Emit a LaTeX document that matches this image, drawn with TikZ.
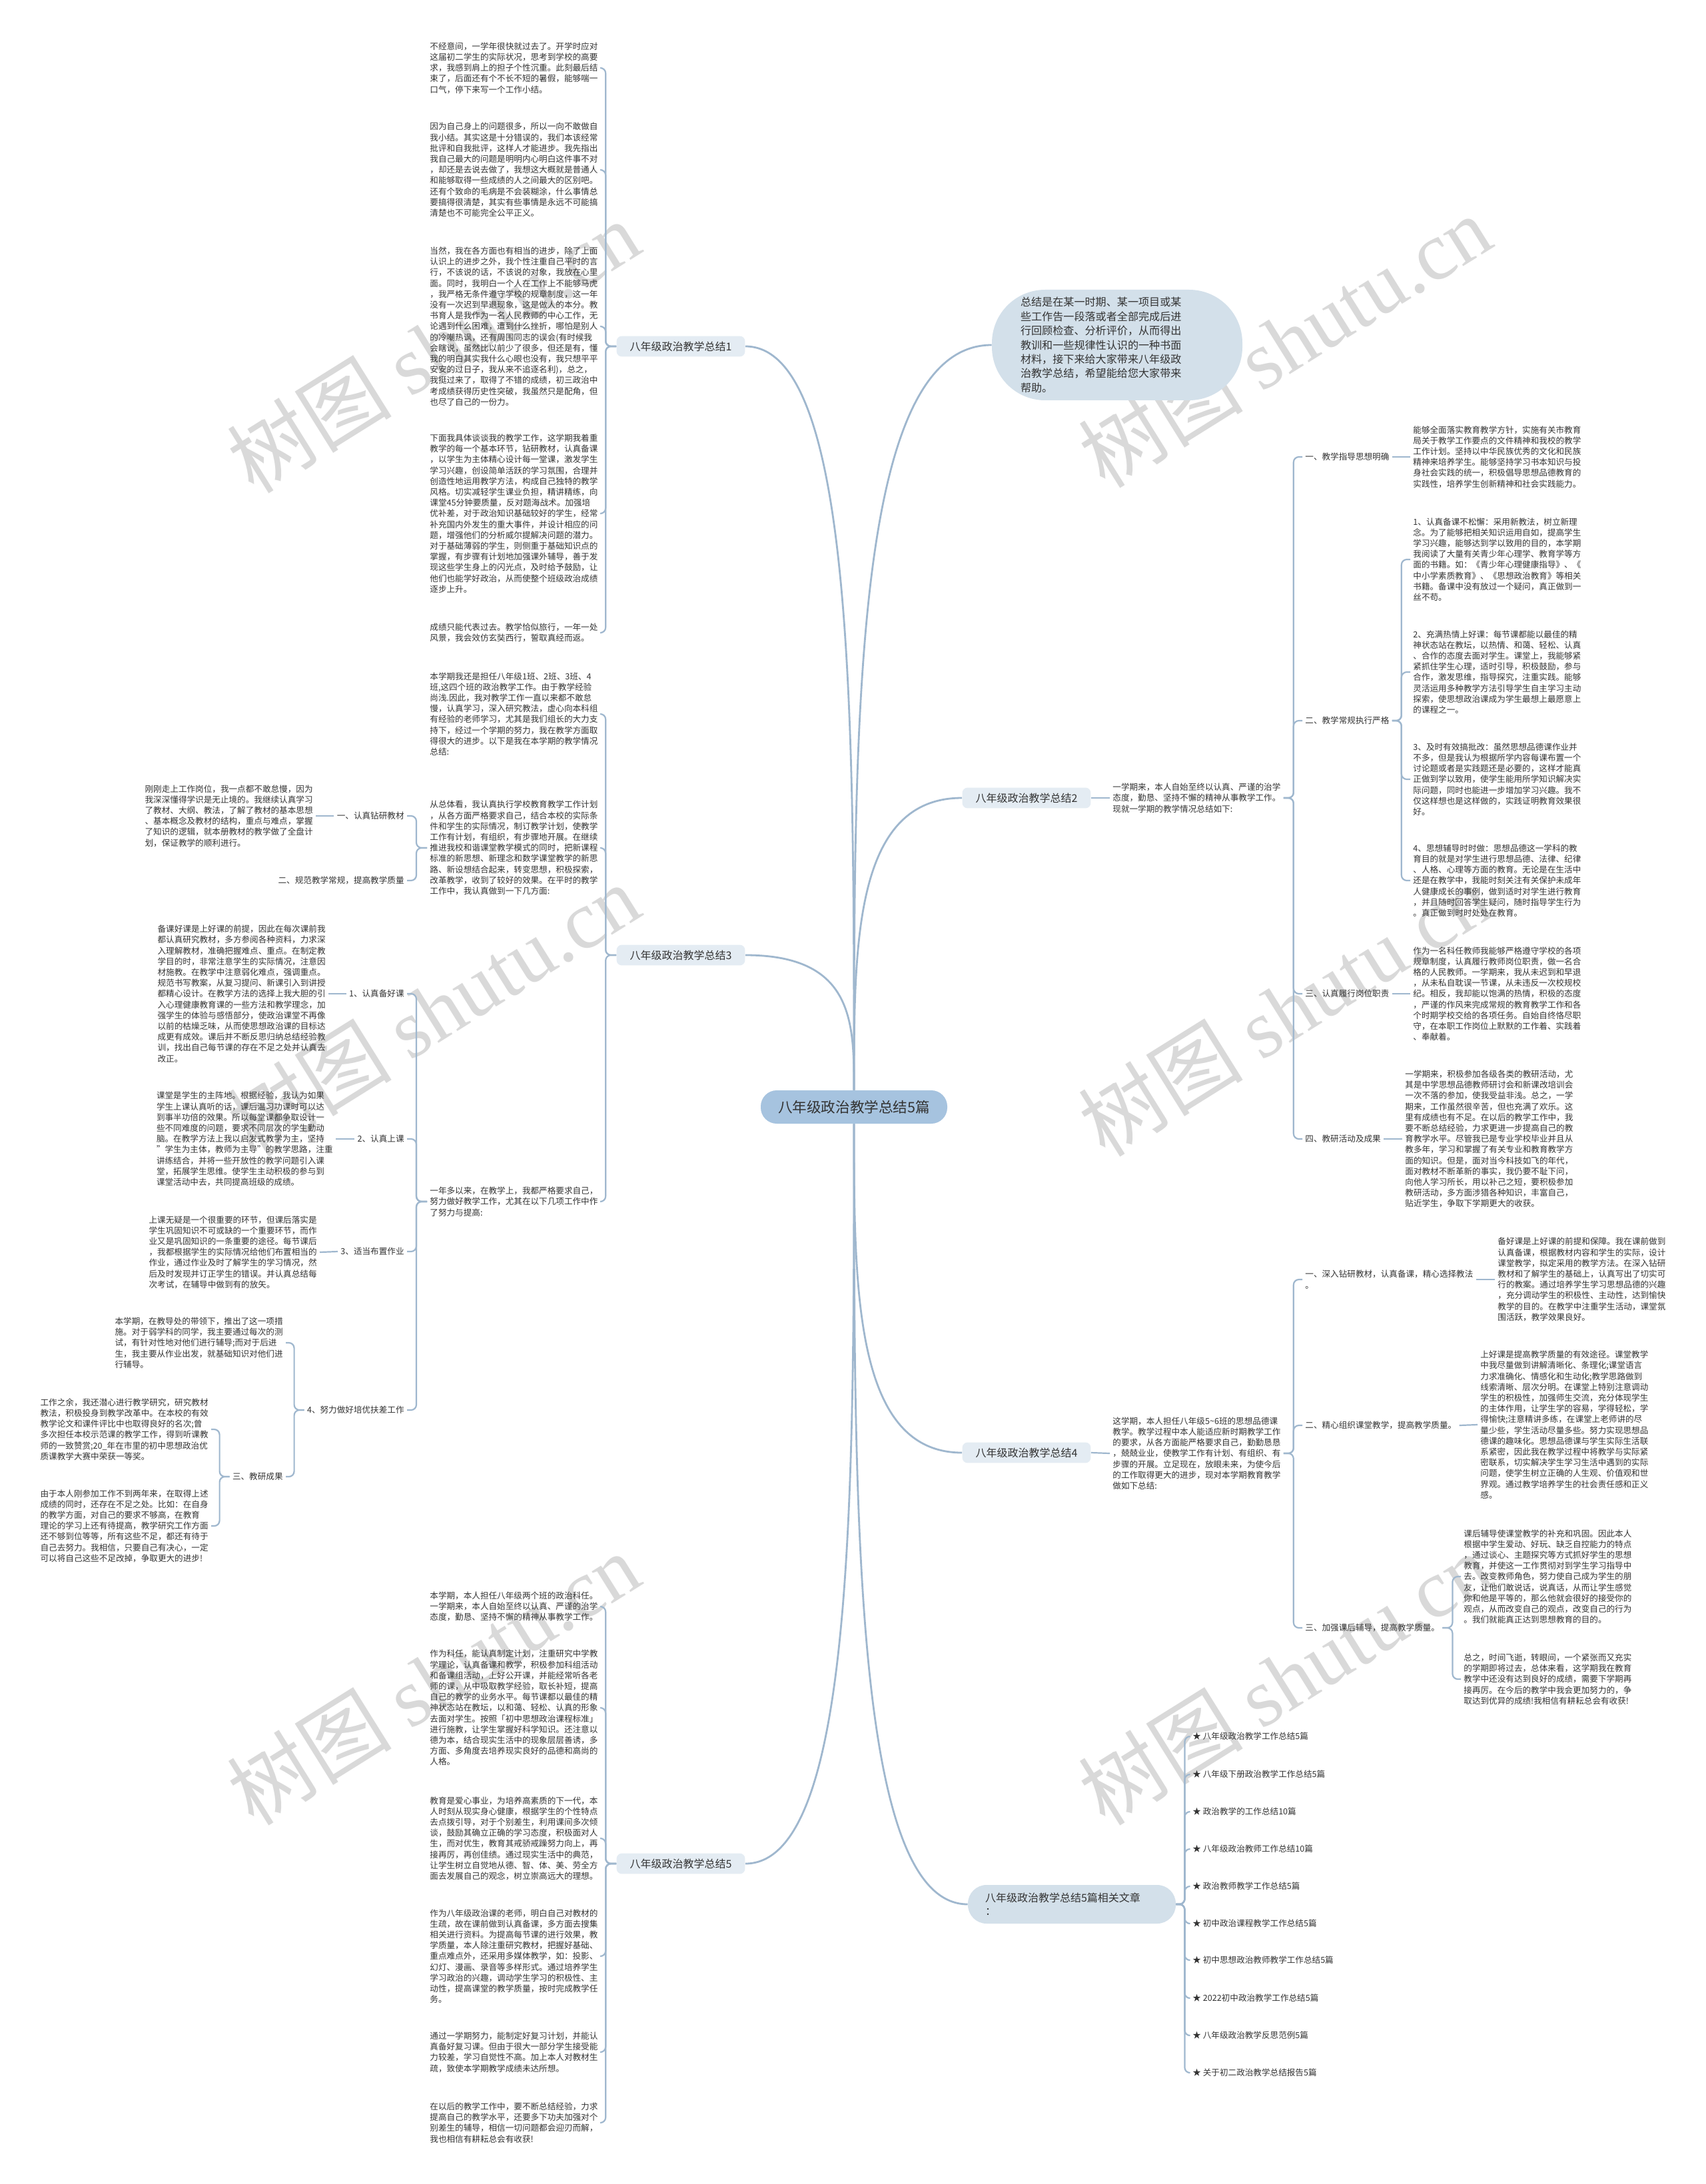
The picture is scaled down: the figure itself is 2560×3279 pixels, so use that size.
\documentclass[tikz,border=0pt]{standalone}
\usepackage{fontspec}
\setmainfont{Noto Sans CJK SC}
\newfontfamily\wmfont{Liberation Serif}
\usetikzlibrary{calc}
\definecolor{lc}{HTML}{9FB7CE}
\definecolor{ctrf}{HTML}{A6C3DF}
\definecolor{bubf}{HTML}{D3E0EA}
\definecolor{brf}{HTML}{E4ECF3}
\definecolor{tc}{HTML}{333333}
\definecolor{wmc}{HTML}{D9D9D9}
\tikzset{
  conn/.style={draw=lc, line width=1.1pt, rounded corners=4pt},
  mainc/.style={draw=lc, line width=1.4pt},
  txt/.style={font=\fontsize{6.3pt}{8.1pt}\selectfont, align=left, inner sep=2pt, text=tc},
  lbl/.style={font=\fontsize{6.3pt}{8.1pt}\selectfont, align=left, inner sep=2pt, text=tc},
  brn/.style={font=\fontsize{8pt}{10pt}\selectfont, fill=brf, rounded corners=4pt, inner xsep=10pt, inner ysep=4pt, text=tc},
  wm/.style={text=wmc, font=\fontsize{62pt}{62pt}\selectfont, rotate=32, inner sep=0pt},
  itm/.style={font=\fontsize{6.3pt}{8.1pt}\selectfont, inner sep=2pt, text=tc, anchor=west}
}
\begin{document}
\begin{tikzpicture}[x=0.5pt,y=-0.5pt]
\fill[white] (0,0) rectangle (2560,3279);
\useasboundingbox (0,0) rectangle (2560,3279);

% watermarks
\node[wm] (w1) at (650,520) {树图 {\wmfont shutu.cn}};
\node[wm] (w2) at (1928,512) {树图 {\wmfont shutu.cn}};
\node[wm] (w3) at (650,1516) {树图 {\wmfont shutu.cn}};
\node[wm] (w4) at (1928,1516) {树图 {\wmfont shutu.cn}};
\node[wm] (w5) at (650,2520) {树图 {\wmfont shutu.cn}};
\node[wm] (w6) at (1928,2520) {树图 {\wmfont shutu.cn}};

% center
\node[fill=ctrf, rounded corners=12pt, minimum width=140pt, minimum height=25pt, font=\fontsize{10.8pt}{12pt}\selectfont, text=tc] (ctr) at (1282,1662) {八年级政治教学总结5篇};

% summary bubble
\node[fill=bubf, rounded corners=40pt, minimum height=83pt, text width=145pt, inner xsep=21.5pt, align=left, font=\fontsize{8.05pt}{10.7pt}\selectfont, text=tc] (sum) at (1677,518) {总结是在某一时期、某一项目或某\\些工作告一段落或者全部完成后进\\行回顾检查、分析评价，从而得出\\教训和一些规律性认识的一种书面\\材料，接下来给大家带来八年级政\\治教学总结，希望能给您大家带来\\帮助。};

% branch nodes
\node[brn] (b1) at (1022,520) {八年级政治教学总结1};
\node[brn] (b3) at (1022,1434) {八年级政治教学总结3};
\node[brn] (b5) at (1022,2798) {八年级政治教学总结5};
\node[brn] (b2) at (1541,1198) {八年级政治教学总结2};
\node[brn] (b4) at (1541,2181) {八年级政治教学总结4};
\node[fill=bubf, rounded corners=14pt, minimum height=29pt, text width=130pt, inner xsep=13pt, align=left, font=\fontsize{8pt}{10pt}\selectfont, text=tc] (rel) at (1609,2859) {八年级政治教学总结5篇相关文章\\：};

% main connectors
\foreach \t/\a in {b1/east, b3/east, sum/west, b2/west}{
  \draw[mainc] (ctr.north) .. controls ($(ctr.north)!0.5!(ctr.north|-\t.\a)$) and (ctr.north|-\t.\a) .. (\t.\a);
}
\foreach \t/\a in {b5/east, b4/west, rel/west}{
  \draw[mainc] (ctr.south) .. controls ($(ctr.south)!0.5!(ctr.south|-\t.\a)$) and (ctr.south|-\t.\a) .. (\t.\a);
}

% ---------- branch 1 ----------
\node[txt, anchor=west] (a1) at (641,102) {不经意间，一学年很快就过去了。开学时应对\\这届初二学生的实际状况，思考到学校的高要\\求，我感到肩上的担子个性沉重。此刻最后结\\束了，后面还有个不长不短的暑假，能够喘一\\口气，停下来写一个工作小结。};
\node[txt, anchor=west] (a2) at (641,255) {因为自己身上的问题很多，所以一向不敢做自\\我小结。其实这是十分错误的，我们本该经常\\批评和自我批评，这样人才能进步。我先指出\\我自己最大的问题是明明内心明白这件事不对\\，却还是去说去做了，我想这大概就是普通人\\和能够取得一些成绩的人之间最大的区别吧。\\还有个致命的毛病是不会装糊涂，什么事情总\\要搞得很清楚，其实有些事情是永远不可能搞\\清楚也不可能完全公平正义。};
\node[txt, anchor=west] (a3) at (641,490) {当然，我在各方面也有相当的进步，除了上面\\认识上的进步之外，我个性注重自己平时的言\\行，不该说的话，不该说的对象，我放在心里\\面。同时，我明白一个人在工作上不能够马虎\\，我严格无条件遵守学校的规章制度，这一年\\没有一次迟到早退现象，这是做人的本分。教\\书育人是我作为一名人民教师的中心工作，无\\论遇到什么困难，遭到什么挫折，哪怕是别人\\的冷嘲热讽，还有周围同志的误会(有时候我\\会瞎说，虽然比以前少了很多，但还是有，懂\\我的明白其实我什么心眼也没有，我只想平平\\安安的过日子，我从来不追逐名利)，总之，\\我挺过来了，取得了不错的成绩，初三政治中\\考成绩获得历史性突破，我虽然只是配角，但\\也尽了自己的一份力。};
\node[txt, anchor=west] (a4) at (641,771) {下面我具体谈谈我的教学工作，这学期我着重\\教学的每一个基本环节，钻研教材，认真备课\\，以学生为主体精心设计每一堂课，激发学生\\学习兴趣，创设简单活跃的学习氛围，合理并\\创造性地运用教学方法，构成自己独特的教学\\风格。切实减轻学生课业负担，精讲精练，向\\课堂45分钟要质量，反对题海战术。加强培\\优补差，对于政治知识基础较好的学生，经常\\补充国内外发生的重大事件，并设计相应的问\\题，增强他们的分析威尔提解决问题的潜力。\\对于基础薄弱的学生，则侧重于基础知识点的\\掌握，有步骤有计划地加强课外辅导，善于发\\现这些学生身上的闪光点，及时给予鼓励，让\\他们也能学好政治，从而使整个班级政治成绩\\逐步上升。};
\node[txt, anchor=west] (a5) at (641,950) {成绩只能代表过去。教学恰似旅行，一年一处\\风景，我会效仿玄奘西行，誓取真经而返。};
\foreach \c in {a1,a2,a3,a4,a5}{\draw[conn] (b1.west) -- ++(-16,0) |- (\c.east);}

% ---------- branch 3 ----------
\node[txt, anchor=west] (c1) at (641,1072) {本学期我还是担任八年级1班、2班、3班、4\\班,这四个班的政治教学工作。由于教学经验\\尚浅.因此，我对教学工作一直以来都不敢怠\\慢，认真学习，深入研究教法，虚心向本科组\\有经验的老师学习，尤其是我们组长的大力支\\持下，经过一个学期的努力，我在教学方面取\\得很大的进步。以下是我在本学期的教学情况\\总结:};
\node[txt, anchor=west] (c2) at (641,1273) {从总体看，我认真执行学校教育教学工作计划\\，从各方面严格要求自己，结合本校的实际条\\件和学生的实际情况，制订教学计划，使教学\\工作有计划，有组织，有步骤地开展。在继续\\推进我校和谐课堂教学模式的同时，把新课程\\标准的新思想、新理念和数学课堂教学的新思\\路、新设想结合起来，转变思想，积极探索，\\改革教学，收到了较好的效果。在平时的教学\\工作中，我认真做到一下几方面:};
\node[txt, anchor=west] (c3) at (641,1804) {一年多以来，在教学上，我都严格要求自己，\\努力做好教学工作，尤其在以下几项工作中作\\了努力与提高:};
\foreach \c in {c1,c2,c3}{\draw[conn] (b3.west) -- ++(-16,0) |- (\c.east);}

\node[lbl, anchor=east] (c2a) at (611,1225) {一、认真钻研教材};
\node[lbl, anchor=east] (c2b) at (611,1322) {二、规范教学常规，提高教学质量};
\node[txt, anchor=east] (c2aa) at (474,1225) {刚刚走上工作岗位，我一点都不敢怠慢，因为\\我深深懂得学识是无止境的。我继续认真学习\\了教材、大纲、教法，了解了教材的基本思想\\、基本概念及教材的结构，重点与难点，掌握\\了知识的逻辑，就本册教材的教学做了全盘计\\划，保证教学的顺利进行。};
\foreach \c in {c2a,c2b}{\draw[conn] (c2.west) -- ++(-16,0) |- (\c.east);}
\draw[conn] (c2a.west) -- (c2aa.east);

\node[lbl, anchor=east] (c3a) at (611,1492) {1、认真备好课};
\node[lbl, anchor=east] (c3b) at (611,1710) {2、认真上课};
\node[lbl, anchor=east] (c3c) at (611,1879) {3、适当布置作业};
\node[lbl, anchor=east] (c3d) at (611,2117) {4、努力做好培优扶差工作};
\foreach \c in {c3a,c3b,c3c,c3d}{\draw[conn] (c3.west) -- ++(-16,0) |- (\c.east);}
\node[txt, anchor=east] (c3aa) at (493,1492) {备课好课是上好课的前提，因此在每次课前我\\都认真研究教材，多方参阅各种资料，力求深\\入理解教材，准确把握难点、重点。在制定教\\学目的时，非常注意学生的实际情况，注意因\\材施教。在教学中注意弱化难点，强调重点。\\规范书写教案，从复习提问、新课引入到讲授\\都精心设计。在教学方法的选择上我大胆的引\\入心理健康教育课的一些方法和教学理念，加\\强学生的体验与感悟部分，使政治课堂不再像\\以前的枯燥乏味，从而使思想政治课的目标达\\成更有成效。课后并不断反思归纳总结经验教\\训，找出自己每节课的存在不足之处并认真去\\改正。};
\node[txt, anchor=east] (c3ba) at (504,1710) {课堂是学生的主阵地。根据经验，我认为如果\\学生上课认真听的话，课后温习功课时可以达\\到事半功倍的效果。所以每堂课都争取设计一\\些不同难度的问题，要求不同层次的学生勤动\\脑。在教学方法上我以启发式教学为主，坚持\\"学生为主体，教师为主导"的教学思路，注重\\讲练结合，并将一些开放性的教学问题引入课\\堂，拓展学生思维。使学生主动积极的参与到\\课堂活动中去，共同提高班级的成绩。};
\node[txt, anchor=east] (c3ca) at (480,1880) {上课无疑是一个很重要的环节，但课后落实是\\学生巩固知识不可或缺的一个重要环节，而作\\业又是巩固知识的一条重要的途径。每节课后\\，我都根据学生的实际情况给他们布置相当的\\作业，通过作业及时了解学生的学习情况，然\\后及时发现并订正学生的错误。并认真总结每\\次考试，在辅导中做到有的放矢。};
\draw[conn] (c3a.west) -- (c3aa.east);
\draw[conn] (c3b.west) -- (c3ba.east);
\draw[conn] (c3c.west) -- (c3ca.east);

\node[txt, anchor=east] (c3da) at (429,2016) {本学期，在教导处的带领下，推出了这一项措\\施。对于弱学科的同学，我主要通过每次的测\\试，有针对性地对他们进行辅导;而对于后进\\生，我主要从作业出发，就基础知识对他们进\\行辅导。};
\node[lbl, anchor=east] (c3db) at (429,2217) {三、教研成果};
\foreach \c in {c3da,c3db}{\draw[conn] (c3d.west) -- ++(-15,0) |- (\c.east);}
\node[txt, anchor=east] (c3dba) at (317,2146) {工作之余，我还潜心进行教学研究，研究教材\\教法，积极投身到教学改革中。在本校的有效\\教学论文和课件评比中也取得良好的名次;曾\\多次担任本校示范课的教学工作，得到听课教\\师的一致赞赏;20\_年在市里的初中思想政治优\\质课教学大赛中荣获一等奖。};
\node[txt, anchor=east] (c3dbb) at (317,2291) {由于本人刚参加工作不到两年来，在取得上述\\成绩的同时，还存在不足之处。比如：在自身\\的教学方面，对自己的要求不够高，在教育\\理论的学习上还有待提高，教学研究工作方面\\还不够到位等等，所有这些不足，都还有待于\\自己去努力。我相信，只要自己有决心，一定\\可以将自己这些不足改掉，争取更大的进步!};
\foreach \c in {c3dba,c3dbb}{\draw[conn] (c3db.west) -- ++(-15,0) |- (\c.east);}

% ---------- branch 5 ----------
\node[txt, anchor=west] (e1) at (641,2412) {本学期，本人担任八年级两个班的政治科任。\\一学期来，本人自始至终以认真、严谨的治学\\态度，勤恳、坚持不懈的精神从事教学工作。};
\node[txt, anchor=west] (e2) at (641,2564) {作为科任，能认真制定计划，注重研究中学教\\学理论，认真备课和教学，积极参加科组活动\\和备课组活动，上好公开课，并能经常听各老\\师的课，从中吸取教学经验，取长补短，提高\\自己的教学的业务水平。每节课都以最佳的精\\神状态站在教坛，以和蔼、轻松、认真的形象\\去面对学生。按照「初中思想政治课程标准」\\进行施教，让学生掌握好科学知识。还注意以\\德为本，结合现实生活中的现象层层善诱，多\\方面、多角度去培养现实良好的品德和高尚的\\人格。};
\node[txt, anchor=west] (e3) at (641,2760) {教育是爱心事业，为培养高素质的下一代，本\\人时刻从现实身心健康，根据学生的个性特点\\去点拨引导，对于个别差生，利用课间多次倾\\谈，鼓励其确立正确的学习态度，积极面对人\\生，而对优生，教育其戒骄戒躁努力向上，再\\接再厉，再创佳绩。通过现实生活中的典范，\\让学生树立自觉地从德、智、体、美、劳全方\\面去发展自己的观念，树立崇高远大的理想。};
\node[txt, anchor=west] (e4) at (641,2937) {作为八年级政治课的老师，明白自己对教材的\\生疏，故在课前做到认真备课，多方面去搜集\\相关进行资料。为提高每节课的进行效果，教\\学质量，本人除注重研究教材，把握好基础、\\重点难点外，还采用多媒体教学，如：投影、\\幻灯、漫画、录音等多样形式。通过培养学生\\学习政治的兴趣，调动学生学习的积极性、主\\动性，提高课堂的教学质量，按时完成教学任\\务。};
\node[txt, anchor=west] (e5) at (641,3081) {通过一学期努力，能制定好复习计划，并能认\\真备好复习课。但由于很大一部分学生接受能\\力较差，学习自觉性不高。加上本人对教材生\\疏，致使本学期教学成绩未达所想。};
\node[txt, anchor=west] (e6) at (641,3187) {在以后的教学工作中，要不断总结经验，力求\\提高自己的教学水平，还要多下功夫加强对个\\别差生的辅导，相信一切问题都会迎刃而解，\\我也相信有耕耘总会有收获!};
\foreach \c in {e1,e2,e3,e4,e5,e6}{\draw[conn] (b5.west) -- ++(-16,0) |- (\c.east);}

% ---------- branch 2 ----------
\node[txt, anchor=west] (r2) at (1666,1198) {一学期来，本人自始至终以认真、严谨的治学\\态度，勤恳、坚持不懈的精神从事教学工作。\\现就一学期的教学情况总结如下:};
\draw[conn] (b2.east) -- (r2.west);
\node[lbl, anchor=west] (r2a) at (1955,686) {一、教学指导思想明确};
\node[lbl, anchor=west] (r2b) at (1955,1082) {二、教学常规执行严格};
\node[lbl, anchor=west] (r2c) at (1955,1492) {三、认真履行岗位职责};
\node[lbl, anchor=west] (r2d) at (1955,1710) {四、教研活动及成果};
\foreach \c in {r2a,r2b,r2c,r2d}{\draw[conn] (r2.east) -- ++(15,0) |- (\c.west);}
\node[txt, anchor=west] (r2aa) at (2117,686) {能够全面落实教育教学方针，实施有关市教育\\局关于教学工作要点的文件精神和我校的教学\\工作计划。坚持以中华民族优秀的文化和民族\\精神来培养学生。能够坚持学习书本知识与投\\身社会实践的统一，积极倡导思想品德教育的\\实践性，培养学生创新精神和社会实践能力。};
\draw[conn] (r2a.east) -- (r2aa.west);
\node[txt, anchor=west] (r2b1) at (2117,840) {1、认真备课不松懈：采用新教法，树立新理\\念。为了能够把相关知识运用自如，提高学生\\学习兴趣，能够达到学以致用的目的，本学期\\我阅读了大量有关青少年心理学、教育学等方\\面的书籍。如：《青少年心理健康指导》、《\\中小学素质教育》、《思想政治教育》等相关\\书籍。备课中没有放过一个疑问，真正做到一\\丝不苟。};
\node[txt, anchor=west] (r2b2) at (2117,1009) {2、充满热情上好课：每节课都能以最佳的精\\神状态站在教坛，以热情、和蔼、轻松、认真\\、合作的态度去面对学生。课堂上，我能够紧\\紧抓住学生心理，适时引导，积极鼓励，参与\\合作，激发思维，指导探究，注重实践。能够\\灵活运用多种教学方法引导学生自主学习主动\\探索，使思想政治课成为学生最想上最愿意上\\的课程之一。};
\node[txt, anchor=west] (r2b3) at (2117,1170) {3、及时有效搞批改：虽然思想品德课作业并\\不多，但是我认为根据所学内容每课布置一个\\讨论题或者是实践题还是必要的，这样才能真\\正做到学以致用，使学生能用所学知识解决实\\际问题，同时也能进一步增加学习兴趣。我不\\仅这样想也是这样做的，实践证明教育效果很\\好。};
\node[txt, anchor=west] (r2b4) at (2117,1322) {4、思想辅导时时做：思想品德这一学科的教\\育目的就是对学生进行思想品德、法律、纪律\\、人格、心理等方面的教育。无论是在生活中\\还是在教学中，我能时刻关注有关保护未成年\\人健康成长的事例，做到适时对学生进行教育\\，并且随时回答学生疑问，随时指导学生行为\\。真正做到时时处处在教育。};
\foreach \c in {r2b1,r2b2,r2b3,r2b4}{\draw[conn] (r2b.east) -- ++(14,0) |- (\c.west);}
\node[txt, anchor=west] (r2ca) at (2117,1492) {作为一名科任教师我能够严格遵守学校的各项\\规章制度，认真履行教师岗位职责，做一名合\\格的人民教师。一学期来，我从未迟到和早退\\，从未私自耽误一节课，从未违反一次校规校\\纪。相反，我却能以饱满的热情，积极的态度\\，严谨的作风来完成常规的教育教学工作和各\\个时期学校交给的各项任务。自始自终恪尽职\\守，在本职工作岗位上默默的工作着、实践着\\、奉献着。};
\draw[conn] (r2c.east) -- (r2ca.west);
\node[txt, anchor=west] (r2da) at (2105,1710) {一学期来，积极参加各级各类的教研活动，尤\\其是中学思想品德教师研讨会和新课改培训会\\一次不落的参加，使我受益非浅。总之，一学\\期来，工作虽然很辛苦，但也充满了欢乐。这\\里有成绩也有不足。在以后的教学工作中，我\\要不断总结经验，力求更进一步提高自己的教\\育教学水平。尽管我已是专业学校毕业并且从\\教多年，学习和掌握了有关专业和教育教学方\\面的知识。但是，面对当今科技如飞的年代，\\面对教材不断革新的事实，我仍要不耻下问，\\向他人学习所长，用以补己之短，要积极参加\\教研活动，多方面涉猎各种知识，丰富自己，\\贴近学生，争取下学期更大的收获。};
\draw[conn] (r2d.east) -- (r2da.west);

% ---------- branch 4 ----------
\node[txt, anchor=west] (r4) at (1666,2182) {这学期，本人担任八年级5\textasciitilde 6班的思想品德课\\教学。教学过程中本人能适应新时期教学工作\\的要求，从各方面能严格要求自己，勤勤恳恳\\，兢兢业业，使教学工作有计划、有组织、有\\步骤的开展。立足现在，放眼未来，为使今后\\的工作取得更大的进步，现对本学期教育教学\\做如下总结:};
\draw[conn] (b4.east) -- (r4.west);
\node[lbl, anchor=west] (r4a) at (1955,1921) {一、深入钻研教材，认真备课，精心选择教法\\。};
\node[lbl, anchor=west] (r4b) at (1955,2140) {二、精心组织课堂教学，提高教学质量。};
\node[lbl, anchor=west] (r4c) at (1955,2444) {三、加强课后辅导，提高教学质量。};
\foreach \c in {r4a,r4b,r4c}{\draw[conn] (r4.east) -- ++(15,0) |- (\c.west);}
\node[txt, anchor=west] (r4aa) at (2244,1921) {备好课是上好课的前提和保障。我在课前做到\\认真备课，根据教材内容和学生的实际，设计\\课堂教学，拟定采用的教学方法。在深入钻研\\教材和了解学生的基础上，认真写出了切实可\\行的教案。通过培养学生学习思想品德的兴趣\\，充分调动学生的积极性、主动性，达到愉快\\教学的目的。在教学中注重学生活动，课堂氛\\围活跃，教学效果良好。};
\draw[conn] (r4a.east) -- (r4aa.west);
\node[txt, anchor=west] (r4ba) at (2218,2139) {上好课是提高教学质量的有效途径。课堂教学\\中我尽量做到讲解清晰化、条理化;课堂语言\\力求准确化、情感化和生动化;教学思路做到\\线索清晰、层次分明。在课堂上特别注意调动\\学生的积极性，加强师生交流，充分体现学生\\的主体作用，让学生学的容易，学得轻松，学\\得愉快;注意精讲多练，在课堂上老师讲的尽\\量少些，学生活动尽量多些。努力实现思想品\\德课的趣味化。思想品德课与学生实际生活联\\系紧密，因此我在教学过程中将教学与实际紧\\密联系，切实解决学生学习生活中遇到的实际\\问题，使学生树立正确的人生观、价值观和世\\界观。通过教学培养学生的社会责任感和正义\\感。};
\draw[conn] (r4b.east) -- (r4ba.west);
\node[txt, anchor=west] (r4ca) at (2193,2367) {课后辅导使课堂教学的补充和巩固。因此本人\\根据中学生爱动、好玩、缺乏自控能力的特点\\，通过谈心、主题探究等方式抓好学生的思想\\教育，并使这一工作贯彻对到学生学习指导中\\去。改变教师角色，努力使自己成为学生的朋\\友，让他们敢说话，说真话，从而让学生感觉\\你和他是平等的，那么他就会很好的接受你的\\观点，从而改变自己的观点，改变自己的行为\\。我们就能真正达到思想教育的目的。};
\node[txt, anchor=west] (r4cb) at (2193,2521) {总之，时间飞逝，转眼间，一个紧张而又充实\\的学期即将过去，总体来看，这学期我在教育\\教学中还没有达到良好的成绩，需要下学期再\\接再厉。在今后的教学中我会更加努力的，争\\取达到优异的成绩!我相信有耕耘总会有收获!};
\foreach \c in {r4ca,r4cb}{\draw[conn] (r4c.east) -- ++(15,0) |- (\c.west);}

% ---------- related ----------
\node[itm] (i1) at (1786,2607) {★ 八年级政治教学工作总结5篇};
\node[itm] (i2) at (1786,2664) {★ 八年级下册政治教学工作总结5篇};
\node[itm] (i3) at (1786,2720) {★ 政治教学的工作总结10篇};
\node[itm] (i4) at (1786,2776) {★ 八年级政治教师工作总结10篇};
\node[itm] (i5) at (1786,2832) {★ 政治教师教学工作总结5篇};
\node[itm] (i6) at (1786,2888) {★ 初中政治课程教学工作总结5篇};
\node[itm] (i7) at (1786,2943) {★ 初中思想政治教师教学工作总结5篇};
\node[itm] (i8) at (1786,3000) {★ 2022初中政治教学工作总结5篇};
\node[itm] (i9) at (1786,3056) {★ 八年级政治教学反思范例5篇};
\node[itm] (i10) at (1786,3112) {★ 关于初二政治教学总结报告5篇};
\foreach \c in {i1,i2,i3,i4,i5,i6,i7,i8,i9,i10}{\draw[conn] (rel.east) -- ++(13,0) |- (\c.west);}

\end{tikzpicture}
\end{document}
